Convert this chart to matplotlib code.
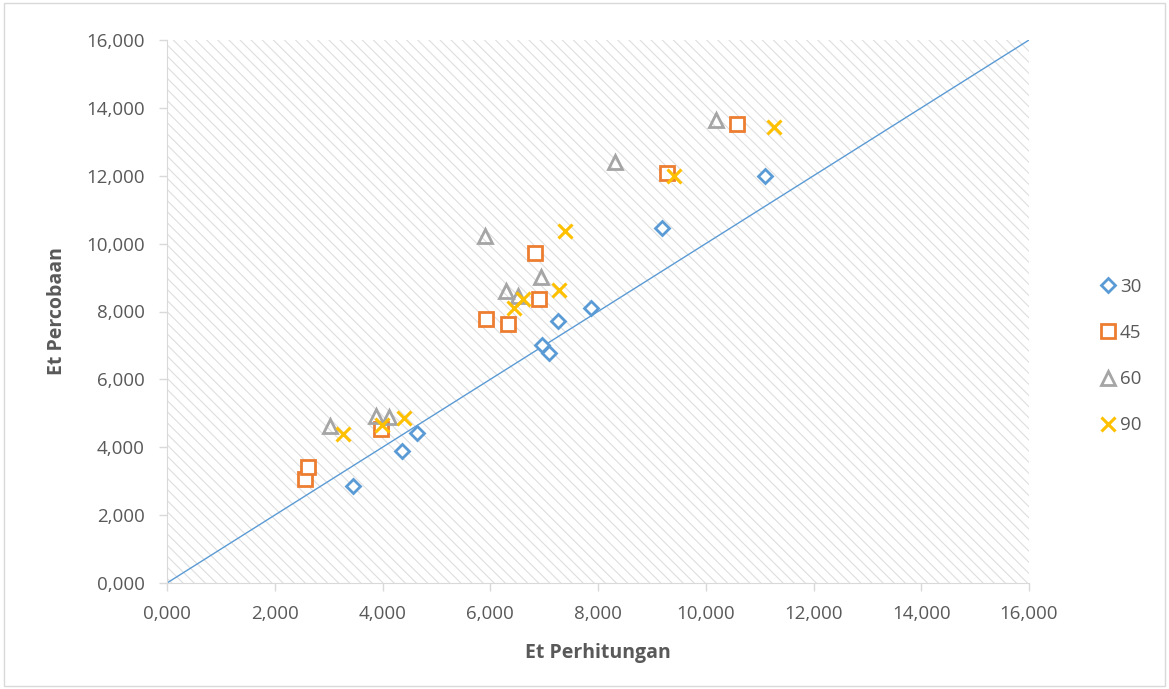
import matplotlib.pyplot as plt
from matplotlib.patches import Rectangle
from matplotlib.ticker import FuncFormatter

plt.rcParams['font.family'] = ['Open Sans', 'DejaVu Sans']
plt.rcParams['hatch.linewidth'] = 0.8

# data (x = Et Perhitungan, y = Et Percobaan)
x_30 = [3.45, 4.36, 4.64, 6.96, 7.09, 7.26, 7.87, 9.19, 11.10]
y_30 = [2.86, 3.89, 4.42, 7.01, 6.78, 7.72, 8.10, 10.46, 11.99]

x_45 = [2.56, 2.62, 3.97, 5.92, 6.33, 6.83, 6.90, 9.28, 10.58]
y_45 = [3.06, 3.42, 4.54, 7.78, 7.63, 9.72, 8.37, 12.08, 13.52]

x_60 = [3.03, 3.88, 4.12, 5.90, 6.29, 6.52, 6.94, 8.32, 10.19]
y_60 = [4.63, 4.92, 4.89, 10.22, 8.60, 8.46, 9.02, 12.40, 13.64]

x_90 = [3.27, 3.99, 4.40, 6.44, 6.61, 7.28, 7.39, 9.41, 11.27]
y_90 = [4.39, 4.66, 4.86, 8.10, 8.37, 8.63, 10.37, 11.99, 13.44]

line_x = [0, 16]
line_y = [0, 16]

ticks = [0, 2, 4, 6, 8, 10, 12, 14, 16]

fig = plt.figure(figsize=(11.69, 6.89), dpi=100)
fig.patches.append(Rectangle((0.003, 0.004), 0.994, 0.992, transform=fig.transFigure,
                             fill=False, edgecolor='#d9d9d9', linewidth=1))
ax = fig.add_axes([167 / 1169, 106 / 689, 862 / 1169, 543 / 689])

ax.add_patch(Rectangle((0, 0), 1, 1, transform=ax.transAxes, facecolor='white',
                       edgecolor='#dedede', hatch='\\\\\\', linewidth=0, zorder=0))

ax.plot(line_x, line_y, color='#5B9BD5', linewidth=1, zorder=2)

ax.plot(x_30, y_30, linestyle='none', marker='D', markersize=7.5, markerfacecolor='white',
        markeredgecolor='#5B9BD5', markeredgewidth=2, label='30', zorder=3)
ax.plot(x_45, y_45, linestyle='none', marker='s', markersize=10, markerfacecolor='white',
        markeredgecolor='#ED7D31', markeredgewidth=2, label='45', zorder=3)
ax.plot(x_60, y_60, linestyle='none', marker='^', markersize=10, markerfacecolor='none',
        markeredgecolor='#A5A5A5', markeredgewidth=2, label='60', zorder=3)
ax.plot(x_90, y_90, linestyle='none', marker='x', markersize=10, color='#FFC000',
        markeredgewidth=2.2, label='90', zorder=3)

ax.set_xlim(0, 16)
ax.set_ylim(0, 16)
ax.set_xticks(ticks)
ax.set_yticks(ticks)
fmt = FuncFormatter(lambda v, p: '{:.3f}'.format(v).replace('.', ','))
ax.xaxis.set_major_formatter(fmt)
ax.yaxis.set_major_formatter(fmt)
ax.tick_params(colors='#d9d9d9', labelcolor='#595959', labelsize=13.5, length=6, width=1)
ax.tick_params(axis='y', pad=10)
ax.tick_params(axis='x', pad=10)

for side in ['top', 'right']:
    ax.spines[side].set_visible(False)
for side in ['left', 'bottom']:
    ax.spines[side].set_color('#d9d9d9')

ax.set_xlabel('Et Perhitungan', fontsize=14, fontweight='bold', color='#595959', labelpad=14)
ax.set_ylabel('Et Percobaan', fontsize=14, fontweight='bold', color='#595959', labelpad=14)

ax.legend(loc='center left', bbox_to_anchor=(1.06, 0.418), frameon=False, fontsize=13.5,
          labelcolor='#595959', labelspacing=1.5, handletextpad=0.1, handlelength=1.1)

fig.savefig('out.png', dpi=100)
